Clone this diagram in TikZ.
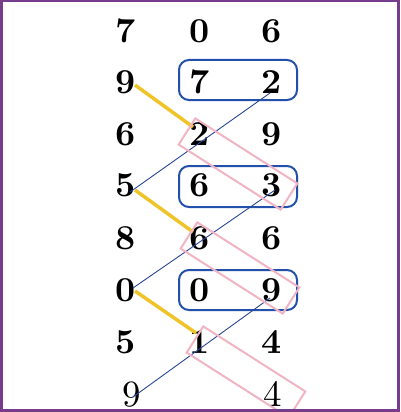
\documentclass[tikz,border=0pt]{standalone}
\usepackage{fontspec}
\setmainfont{Latin Modern Roman}
\newfontfamily\digbold{lmroman10-bold.otf}
\newfontfamily\digreg{lmroman10-regular.otf}
\usetikzlibrary{calc}
\definecolor{bordpurple}{RGB}{120,60,140}
\definecolor{boxblue}{RGB}{35,80,170}
\definecolor{lineblue}{RGB}{40,70,150}
\definecolor{goldline}{RGB}{240,195,40}
\definecolor{pinkline}{RGB}{240,180,195}
\begin{document}
\begin{tikzpicture}[x=1pt,y=-1pt,
  digit/.style={font=\digbold\fontsize{35}{40}\selectfont, inner sep=0pt},
  plaindigit/.style={font=\digreg\fontsize{37}{44}\selectfont, inner sep=0pt},
  bluebox/.style={draw=boxblue, line width=2pt, rounded corners=10pt},
  yel/.style={draw=goldline, line width=3.5pt},
  thinline/.style={draw=lineblue, line width=0.9pt},
  pinkbox/.style={draw=pinkline, line width=2pt, minimum width=121pt, minimum height=31pt, rotate=-32.5, inner sep=0pt}]
\useasboundingbox (0,0) rectangle (400,412);
% digits
\node[digit] (r1c1) at (126,31) {7};
\node[digit] (r1c2) at (200,31) {0};
\node[digit] (r1c3) at (272,31) {6};
\node[digit] (r2c1) at (126,82) {9};
\node[digit] (r2c2) at (200,82) {7};
\node[digit] (r2c3) at (272,82) {2};
\node[digit] (r3c1) at (126,134) {6};
\node[digit] (r3c2) at (200,134) {2};
\node[digit] (r3c3) at (272,134) {9};
\node[digit] (r4c1) at (126,185) {5};
\node[digit] (r4c2) at (200,185) {6};
\node[digit] (r4c3) at (272,185) {3};
\node[digit] (r5c1) at (126,238) {8};
\node[digit] (r5c2) at (200,238) {6};
\node[digit] (r5c3) at (272,238) {6};
\node[digit] (r6c1) at (126,290) {0};
\node[digit] (r6c2) at (200,290) {0};
\node[digit] (r6c3) at (272,290) {9};
\node[digit] (r7c1) at (126,342) {5};
\node[digit] (r7c2) at (200,342) {1};
\node[digit] (r7c3) at (272,342) {4};
\node[plaindigit] (r8c1) at (132,395) {9};
\node[plaindigit] (r8c3) at (273,394) {4};
% blue rounded boxes
\draw[bluebox] ($(r2c2)+(-21,-22)$) rectangle ($(r2c3)+(25,18)$);
\draw[bluebox] ($(r4c2)+(-21,-19)$) rectangle ($(r4c3)+(25,22)$);
\draw[bluebox] ($(r6c2)+(-21,-20)$) rectangle ($(r6c3)+(25,20)$);
% yellow lines
\draw[yel] ($(r2c1)+(9,3)$) -- ($(r3c2)+(-7,-7)$);
\draw[yel] ($(r4c1)+(9,5)$) -- ($(r5c2)+(-7,-6)$);
\draw[yel] ($(r6c1)+(9,1)$) -- ($(r7c2)+(-4,-9)$);
% thin blue lines
\draw[thinline] ($(r2c3)+(-2,11)$) -- ($(r4c1)+(4,7)$);
\draw[thinline] ($(r4c3)+(3,5)$) -- ($(r6c1)+(7,-2)$);
\draw[thinline] ($(r6c3)+(-2,8)$) -- ($(r8c1)+(1,2)$);
% pink rotated boxes
\node[pinkbox] (p1) at (238,164) {};
\node[pinkbox] (p2) at (240,268) {};
\node[pinkbox] (p3) at (246,372) {};
% border
\draw[draw=bordpurple, line width=3pt] (1.5,1) rectangle (398,410);
\end{tikzpicture}
\end{document}
